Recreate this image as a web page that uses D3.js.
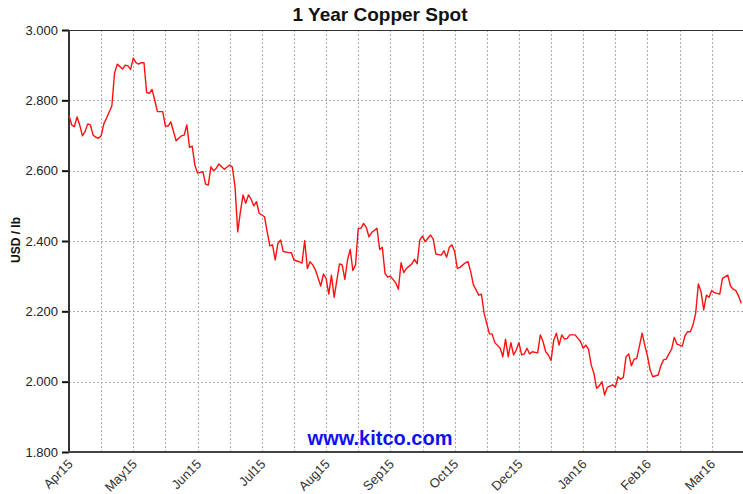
<!DOCTYPE html>
<html>
<head>
<meta charset="utf-8">
<script src="https://cdn.jsdelivr.net/npm/d3@7"></script>
<style>
  html, body { margin: 0; padding: 0; background: #fff; }
  svg { display: block; }
</style>
</head>
<body>
<svg id="chart" width="743" height="494"></svg>
<script>
// ---- data ----
const titleText = "1 Year Copper Spot";
const yAxisLabel = "USD / lb";
const watermark = "www.kitco.com";

// trading-day index within the year (x) and copper spot price in USD/lb (y)
const tradingDay = [
  0,1,2,3,4,5,6,7,8,9,
  10,11,12,13,14,16,17,18,20,21,
  22,23,24,25,26,27,28,29,30,31,
  32,33,35,36,37,38,40,42,43,44,
  45,46,47,48,50,51,52,53,54,55,
  56,57,58,60,61,62,63,64,65,66,
  67,68,69,70,71,73,74,75,76,77,
  78,79,80,82,83,84,86,87,88,89,
  90,91,92,94,95,96,97,98,99,101,
  102,103,104,105,106,107,108,109,110,111,
  112,113,115,116,117,118,119,120,122,123,
  124,125,126,128,129,130,131,132,133,135,
  136,137,139,140,141,142,143,144,145,146,
  148,149,150,151,152,153,154,155,157,158,
  159,161,162,163,164,165,166,167,168,169,
  170,171,172,173,175,176,177,178,179,180,
  181,182,183,184,185,186,187,189,190,191,
  192,193,194,195,196,197,198,199,200,201,
  203,204,205,206,207,208,209,210,211,212,
  213,214,215,216,217,218,220,221,222,223,
  224,225,226,227,229,230,231,232,233,234,
  235,236,237,238,239,240,241,243,244,246,
  247,248,249,250,251
];
const priceUSD = [
  2.758,2.730,2.725,2.753,2.730,2.699,2.711,2.733,2.730,2.701,
  2.695,2.692,2.699,2.733,2.749,2.784,2.877,2.903,2.889,2.900,
  2.898,2.888,2.920,2.907,2.903,2.907,2.907,2.822,2.820,2.831,
  2.801,2.768,2.768,2.727,2.727,2.739,2.685,2.699,2.701,2.730,
  2.666,2.670,2.616,2.593,2.597,2.562,2.559,2.611,2.600,2.607,
  2.619,2.611,2.604,2.616,2.610,2.554,2.426,2.483,2.531,2.507,
  2.531,2.519,2.500,2.512,2.479,2.469,2.426,2.386,2.389,2.346,
  2.393,2.403,2.370,2.367,2.367,2.346,2.341,2.337,2.401,2.322,
  2.341,2.332,2.318,2.272,2.306,2.294,2.249,2.303,2.240,2.335,
  2.332,2.291,2.346,2.376,2.316,2.332,2.436,2.436,2.450,2.439,
  2.412,2.424,2.436,2.376,2.382,2.308,2.297,2.300,2.281,2.263,
  2.338,2.310,2.322,2.335,2.348,2.335,2.403,2.414,2.398,2.417,
  2.405,2.363,2.360,2.372,2.354,2.382,2.389,2.370,2.322,2.325,
  2.338,2.341,2.313,2.275,2.261,2.246,2.249,2.194,2.136,2.136,
  2.111,2.095,2.071,2.121,2.071,2.111,2.076,2.090,2.111,2.076,
  2.079,2.095,2.079,2.085,2.082,2.133,2.114,2.085,2.076,2.060,
  2.118,2.138,2.104,2.133,2.121,2.123,2.133,2.133,2.123,2.114,
  2.095,2.104,2.092,2.047,2.024,1.981,1.988,2.000,1.962,1.984,
  1.991,1.984,2.014,2.007,2.012,2.071,2.079,2.045,2.064,2.066,
  2.101,2.138,2.104,2.073,2.033,2.014,2.019,2.045,2.062,2.064,
  2.079,2.092,2.126,2.107,2.101,2.130,2.142,2.142,2.161,2.194,
  2.278,2.256,2.204,2.246,2.240,2.259,2.253,2.249,2.294,2.303,
  2.272,2.263,2.259,2.244,2.223
];

// x-axis: gridline every 12 trading days, label every 24 trading days
const gridStepDays = 12;
const labelStepDays = 24;
const xTickLabels = ["Apr15","May15","Jun15","Jul15","Aug15","Sep15","Oct15","Dec15","Jan16","Feb16","Mar16"];
const yTickValues = [1.8, 2.0, 2.2, 2.4, 2.6, 2.8, 3.0];

// ---- layout ----
const plotLeft = 69, plotRight = 743, plotTop = 30, plotBottom = 452;
const lastDay = 251;

const x = d3.scaleLinear().domain([0, lastDay]).range([plotLeft, 741.2]);
const y = d3.scaleLinear().domain([1.8, 3.0]).range([plotBottom, plotTop]);

const svg = d3.select("#chart");
const font = "'Liberation Sans', Arial, Helvetica, sans-serif";

const data = tradingDay.map((d, i) => ({ day: d, price: priceUSD[i] }));

// gridlines
const gridColor = "#b3a8ba";
const vGridDays = d3.range(gridStepDays, lastDay + 1, gridStepDays);
svg.append("g").selectAll("line").data(vGridDays).join("line")
  .attr("x1", d => Math.round(x(d)) + 0.5).attr("x2", d => Math.round(x(d)) + 0.5)
  .attr("y1", plotTop).attr("y2", plotBottom)
  .attr("stroke", gridColor).attr("stroke-width", 1).attr("stroke-dasharray", "2,2");

svg.append("g").selectAll("line").data(yTickValues.filter(v => v > 1.8 && v < 3.0)).join("line")
  .attr("x1", plotLeft).attr("x2", plotRight)
  .attr("y1", d => Math.round(y(d)) + 0.5).attr("y2", d => Math.round(y(d)) + 0.5)
  .attr("stroke", gridColor).attr("stroke-width", 1).attr("stroke-dasharray", "2,2");

// y axis (ticks + labels)
const yAxis = d3.axisLeft(y).tickValues(yTickValues).tickFormat(d3.format(".3f")).tickSize(7).tickPadding(4);
const gy = svg.append("g").attr("transform", `translate(${plotLeft},0)`).call(yAxis);
gy.select(".domain").remove();
gy.selectAll(".tick line").attr("stroke", "#111").attr("stroke-width", 2);
gy.selectAll(".tick text").attr("font-family", font).attr("font-size", 13).attr("fill", "#222");

// x axis labels
const labelDays = xTickLabels.map((_, i) => i * labelStepDays);
const xAxis = d3.axisBottom(x).tickValues(labelDays).tickFormat((d, i) => xTickLabels[i]).tickSize(0);
const gx = svg.append("g").attr("transform", `translate(0,${plotBottom})`).call(xAxis);
gx.select(".domain").remove();
gx.selectAll(".tick text")
  .attr("font-family", font).attr("font-size", 13).attr("fill", "#333")
  .attr("text-anchor", "end")
  .attr("y", 0).attr("dy", 0)
  .attr("transform", "translate(4,13) rotate(-45)");

// frame
svg.append("line").attr("x1", plotLeft).attr("x2", plotRight).attr("y1", plotTop + 0.5).attr("y2", plotTop + 0.5)
  .attr("stroke", "#333").attr("stroke-width", 1);
svg.append("line").attr("x1", plotLeft).attr("x2", plotLeft).attr("y1", plotTop).attr("y2", plotBottom + 1)
  .attr("stroke", "#333").attr("stroke-width", 2);
svg.append("line").attr("x1", plotLeft - 1).attr("x2", plotRight).attr("y1", plotBottom).attr("y2", plotBottom)
  .attr("stroke", "#444").attr("stroke-width", 2);

// watermark
svg.append("text").attr("x", 380).attr("y", 445).attr("text-anchor", "middle")
  .attr("font-family", font).attr("font-weight", "bold").attr("font-size", 20)
  .attr("fill", "#1010f0").text(watermark);

// price line
const line = d3.line().x(d => x(d.day)).y(d => y(d.price));
svg.append("path").datum(data).attr("d", line)
  .attr("fill", "none").attr("stroke", "#ff1010").attr("stroke-width", 1.4)
  .attr("stroke-linejoin", "round");

// title
svg.append("text").attr("x", 380).attr("y", 21).attr("text-anchor", "middle")
  .attr("font-family", font).attr("font-weight", "bold").attr("font-size", 19)
  .attr("fill", "#111").text(titleText);

// y label
svg.append("text").attr("transform", "translate(20,240) rotate(-90)").attr("text-anchor", "middle")
  .attr("font-family", font).attr("font-weight", "bold").attr("font-size", 12)
  .attr("fill", "#111").text(yAxisLabel);
</script>
</body>
</html>
